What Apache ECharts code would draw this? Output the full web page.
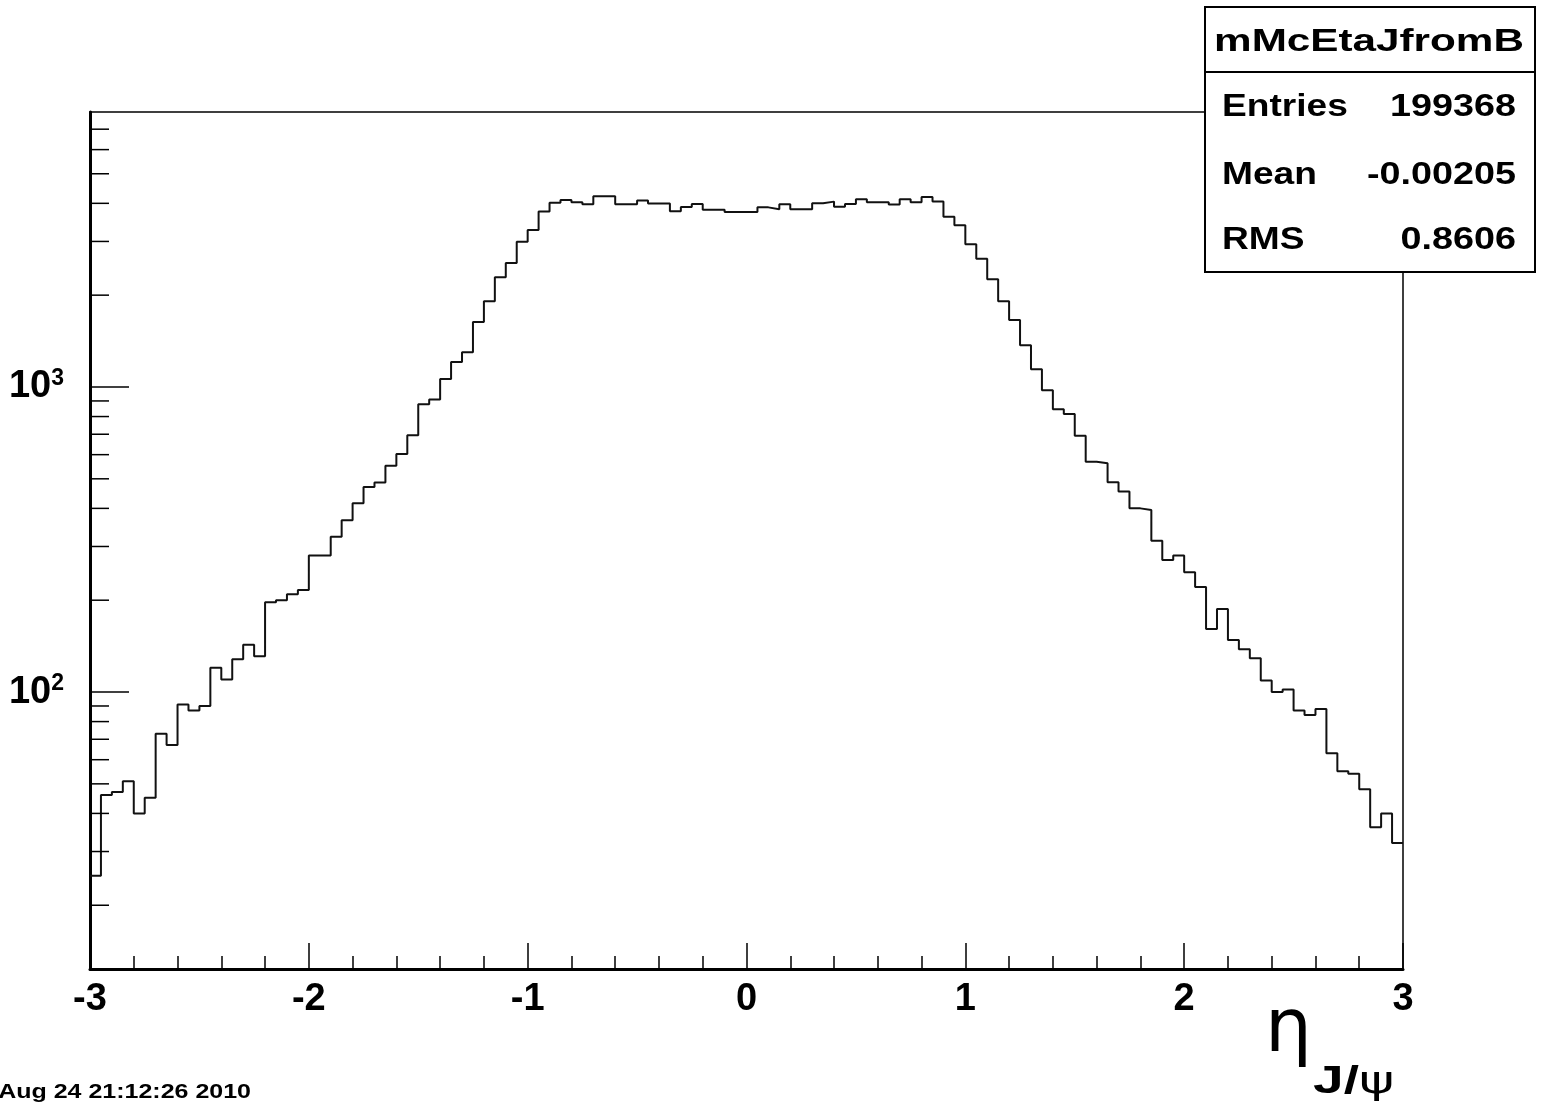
<!DOCTYPE html>
<html>
<head>
<meta charset="utf-8">
<script src="https://cdn.jsdelivr.net/npm/echarts@6/dist/echarts.min.js"></script>
<style>
html,body{margin:0;padding:0;background:#fff;}
#chart{width:1543px;height:1108px;}
</style>
</head>
<body>
<div id="chart"></div>
<script>
// ---- data ----
const xMin = -3;
const xMax = 3;
const binWidth = 0.05;
const counts = [
  25, 46, 47, 51, 40, 45, 73, 67, 91, 87,
  90, 120, 110, 128, 143, 131, 197, 200, 209, 216,
  280, 280, 323, 366, 416, 470, 486, 552, 603, 695,
  877, 909, 1062, 1207, 1300, 1634, 1910, 2291, 2551, 2994,
  3273, 3758, 4017, 4102, 4033, 3972, 4219, 4219, 3972, 3972,
  4083, 3992, 3992, 3767, 3890, 3982, 3812, 3812, 3749, 3749,
  3749, 3880, 3827, 3972, 3827, 3827, 4001, 4052, 3899, 3982,
  4125, 4033, 4033, 3962, 4125, 4033, 4198, 4052, 3614, 3387,
  2938, 2635, 2254, 1910, 1659, 1370, 1143, 975, 845, 815,
  692, 569, 562, 487, 454, 400, 395, 313, 271, 280,
  247, 221, 161, 187, 148, 138, 129, 109, 100, 102,
  87, 84, 88, 63, 55, 54, 48, 36, 40, 32
];
const yMin = 12.36;
const yMax = 7970;
const yMajorTicks = [100, 1000];
const yMinorTicks = [20, 30, 40, 50, 60, 70, 80, 90,
                     200, 300, 400, 500, 600, 700, 800, 900,
                     2000, 3000, 4000, 5000, 6000, 7000];
const statTitle = 'mMcEtaJfromB';
const statRows = [['Entries', '199368'], ['Mean', '-0.00205'], ['RMS', '0.8606']];
const dateText = 'Aug 24 21:12:26 2010';

// ---- build step series (low edges + closing point) ----
const stepData = counts.map((c, i) => [xMin + i * binWidth, c]);
stepData.push([xMax, counts[counts.length - 1]]);

const tickData = yMajorTicks.map(v => [xMin, v, 1]).concat(yMinorTicks.map(v => [xMin, v, 0]));

const chart = echarts.init(document.getElementById('chart'), null, {renderer: 'canvas'});
const FONT = "'Liberation Sans', Arial, sans-serif";

function txt(text, x, y, align, font, sx, extra) {
  const el = {type: 'text', z: 102, x: x, y: y, scaleX: sx || 1, originX: 0, originY: 0,
    style: Object.assign({text: text, x: 0, y: 0, textAlign: align, textVerticalAlign: 'middle', font: font, fill: '#000'}, extra || {})};
  return el;
}

const graphics = [
  {type: 'rect', z: 100, shape: {x: 1205, y: 7, width: 330, height: 265},
   style: {fill: '#fff', stroke: '#000', lineWidth: 2}},
  {type: 'line', z: 101, shape: {x1: 1205, y1: 72, x2: 1535, y2: 72},
   style: {stroke: '#000', lineWidth: 2}},
  txt(statTitle, 1369, 42, 'center', 'bold 32px ' + FONT, 1.32),
  txt(dateText, 251, 1092, 'right', 'bold 21px ' + FONT, 1.19),
  txt('η', 1265, 1032, 'left', '74px "DejaVu Sans", sans-serif', 1),
  txt('{j|J/}{p|ψ}', 1313, 1083, 'left', 'bold 38px ' + FONT, 1.45,
      {rich: {j: {font: 'bold 38px ' + FONT, fill: '#000'}, p: {font: '37px "DejaVu Sans", sans-serif', fill: '#000'}}})
];
const rowY = [107, 175, 240];
statRows.forEach((r, i) => {
  graphics.push(txt(r[0], 1222, rowY[i], 'left', 'bold 32px ' + FONT, 1.16));
  graphics.push(txt(r[1], 1516, rowY[i], 'right', 'bold 32px ' + FONT, 1.18));
});

const option = {
  backgroundColor: '#fff',
  animation: false,
  grid: {left: 90, right: 140, top: 112, bottom: 139, show: true, borderColor: '#000', borderWidth: 1.5, backgroundColor: 'transparent'},
  xAxis: {
    type: 'value', min: xMin, max: xMax, interval: 1,
    axisLine: {show: true, onZero: false, lineStyle: {color: '#000', width: 3}},
    axisTick: {show: true, inside: true, length: 26, lineStyle: {color: '#000', width: 1.5}},
    minorTick: {show: true, splitNumber: 5, length: 13, lineStyle: {color: '#000', width: 1.5}},
    axisLabel: {fontSize: 38, fontWeight: 'bold', color: '#000', fontFamily: FONT, margin: 12},
    splitLine: {show: false}
  },
  yAxis: {
    type: 'log', logBase: 10, min: yMin, max: yMax,
    axisLine: {show: true, onZero: false, lineStyle: {color: '#000', width: 3}},
    axisTick: {show: false},
    splitLine: {show: false},
    axisLabel: {
      showMinLabel: false, showMaxLabel: false, margin: 26,
      formatter: function (v) {
        const e = Math.round(Math.log10(v));
        if (Math.abs(Math.pow(10, e) - v) / v > 1e-6) return '';
        return '{b|10}{s|' + e + '}';
      },
      rich: {
        b: {fontSize: 38, fontWeight: 'bold', color: '#000', fontFamily: FONT, lineHeight: 40},
        s: {fontSize: 23, fontWeight: 'bold', color: '#000', fontFamily: FONT, verticalAlign: 'top', lineHeight: 40, padding: [0, 0, 14, 0]}
      }
    }
  },
  series: [
    {
      type: 'line', step: 'end', data: stepData, showSymbol: false, symbol: 'none',
      lineStyle: {color: '#111', width: 2}, clip: true, silent: true, z: 5
    },
    {
      type: 'custom', data: tickData, silent: true, clip: false, z: 6,
      encode: {x: 0, y: 1},
      renderItem: function (params, api) {
        const p = api.coord([api.value(0), api.value(1)]);
        const len = api.value(2) ? 39 : 19;
        return {type: 'line', shape: {x1: p[0], y1: p[1], x2: p[0] + len, y2: p[1]},
                style: {stroke: '#000', lineWidth: 1.5}};
      }
    }
  ],
  graphic: graphics
};
chart.setOption(option);
</script>
</body>
</html>
